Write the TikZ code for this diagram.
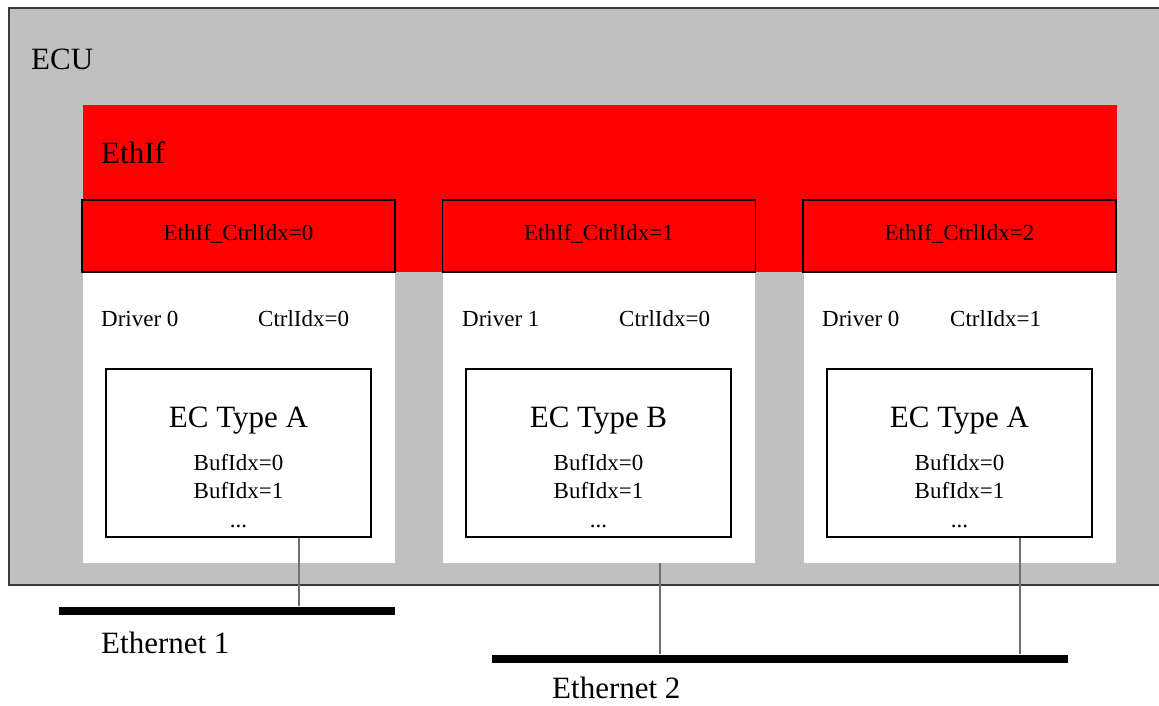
\documentclass[tikz,border=0pt]{standalone}
\usepackage{fontspec}
\setmainfont{Liberation Serif}
\definecolor{ecugray}{HTML}{C0C0C0}
\definecolor{ecuborder}{HTML}{3A3A3A}
\definecolor{linkgray}{HTML}{707070}
\begin{document}
\begin{tikzpicture}[x=1pt,y=-1pt,
  ecubox/.style={draw=ecuborder,line width=2pt,fill=ecugray,inner sep=0pt},
  redarea/.style={fill=red,draw=none,inner sep=0pt},
  column/.style={fill=white,draw=none,inner sep=0pt,minimum width=312pt,minimum height=291pt},
  ctrlbox/.style={fill=red,draw=black,line width=1.5pt,inner sep=0pt,minimum width=313pt,minimum height=72pt},
  ecbox/.style={fill=white,draw=black,line width=1.3pt,inner sep=0pt,minimum width=265pt,minimum height=168pt},
  bar/.style={fill=black,draw=none,inner sep=0pt,minimum height=8pt},
  link/.style={draw=linkgray,line width=2pt},
  big/.style={font=\fontsize{31}{36}\selectfont,inner sep=0pt},
  small/.style={font=\fontsize{23}{27}\selectfont,inner sep=0pt}
]
\clip (0,0) rectangle (1159,705);
\fill[white] (0,0) rectangle (1159,705);

% ECU
\node[ecubox,minimum width=1166pt,minimum height=577pt] (ecu) at (592,296.5) {};
\node[big,anchor=base west] (ecutxt) at (31,69) {ECU};

% EthIf
\node[redarea,minimum width=1034pt,minimum height=167pt] (ethif) at (600,188.5) {};
\node[big,anchor=base west] (ethiftxt) at (101,163) {EthIf};

% white columns
\node[column] (col1) at (239,417.5) {};
\node[column] (col2) at (599,417.5) {};
\node[column] (col3) at (960,417.5) {};

% controller boxes
\node[ctrlbox] (ctrl1) at (238.5,236) {};
\node[ctrlbox] (ctrl2) at (599,236) {};
\node[ctrlbox] (ctrl3) at (959.5,236) {};
\node[small,anchor=base] (ctrl1txt) at (238.5,240) {EthIf\_CtrlIdx=0};
\node[small,anchor=base] (ctrl2txt) at (599,240) {EthIf\_CtrlIdx=1};
\node[small,anchor=base] (ctrl3txt) at (959.5,240) {EthIf\_CtrlIdx=2};

% driver lines
\node[small,anchor=base west] (drv1) at (101,326) {Driver 0};
\node[small,anchor=base west] (idx1) at (258,326) {CtrlIdx=0};
\node[small,anchor=base west] (drv2) at (462,326) {Driver 1};
\node[small,anchor=base west] (idx2) at (619,326) {CtrlIdx=0};
\node[small,anchor=base west] (drv3) at (822,326) {Driver 0};
\node[small,anchor=base west] (idx3) at (950,326) {CtrlIdx=1};

% EC boxes
\node[ecbox] (ec1) at (238.5,453) {};
\node[ecbox] (ec2) at (598.5,453) {};
\node[ecbox] (ec3) at (959.5,453) {};
\foreach \n/\cx/\t in {1/238.5/A,2/598.5/B,3/959.5/A}{
  \node[big,anchor=base] (ect\n) at (\cx,427) {EC Type \t};
  \node[small,anchor=base] (bufa\n) at (\cx,470) {BufIdx=0};
  \node[small,anchor=base] (bufb\n) at (\cx,498) {BufIdx=1};
  \node[small,anchor=base] (dots\n) at (\cx,527) {...};
}

% Ethernet buses
\node[bar,minimum width=336pt] (eth1) at (227,610.5) {};
\node[bar,minimum width=576pt] (eth2) at (780,658.5) {};
\node[big,anchor=base west] (eth1txt) at (101,653) {Ethernet 1};
\node[big,anchor=base west] (eth2txt) at (552,698) {Ethernet 2};

% connectors
\coordinate (t1) at (299,0);
\coordinate (t2) at (660,0);
\coordinate (t3) at (1020,0);
\draw[link] (ec1.south -| t1) -- (eth1.north -| t1);
\draw[link] (col2.south -| t2) -- (eth2.north -| t2);
\draw[link] (ec3.south -| t3) -- (eth2.north -| t3);
\end{tikzpicture}
\end{document}
